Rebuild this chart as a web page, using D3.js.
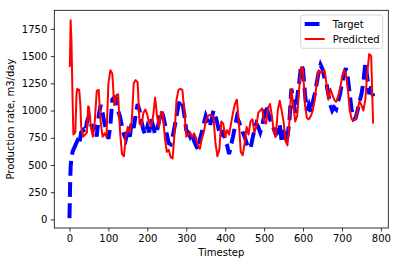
<!DOCTYPE html>
<html><head><meta charset="utf-8">
<script src="https://cdn.jsdelivr.net/npm/d3@7"></script>
<style>body{margin:0;background:#fff}svg{display:block}text{font-family:"DejaVu Sans",sans-serif;font-size:10px;fill:#000}</style>
</head><body><svg id="c" width="399" height="266"></svg>
<script>
const targetT = [0,1,2,3,5,8,10,15,20,25,30,35,40,45,50,55,60,65,70,75,80,85,90,95,100,105,110,115,120,125,130,135,140,145,150,155,160,165,170,175,180,185,190,195,200,205,210,215,220,225,230,235,240,245,250,255,260,265,270,275,280,285,290,295,300,305,310,315,320,325,330,335,340,345,350,355,360,365,370,375,380,385,390,395,400,405,410,415,420,425,430,435,440,445,450,455,460,465,470,475,480,485,490,495,500,505,510,515,520,525,530,535,540,545,550,555,560,565,570,575,580,585,590,595,600,605,610,615,620,625,630,635,640,645,650,655,660,665,670,675,680,685,690,695,700,705,710,715,720,725,730,735,740,745,750,755,760,765,770,775,780];
const targetV = [12,200,380,480,570,620,640,680,720,690,800,820,790,900,950,880,820,870,760,950,1050,980,880,820,740,860,1100,1120,1110,1000,940,850,780,740,820,760,900,840,960,1060,1000,900,820,780,850,800,920,860,780,820,900,1000,960,880,780,700,690,760,850,950,1050,1100,1080,960,820,800,760,800,720,680,640,740,800,880,950,900,850,920,1000,950,880,800,760,820,720,680,600,680,760,850,940,900,850,800,760,700,660,650,740,820,880,850,800,860,950,1050,980,920,880,830,780,800,880,720,820,700,760,900,1200,1100,980,1120,1250,1420,1380,1150,1000,1050,980,1080,1150,1250,1350,1420,1380,1300,1250,1150,1050,1000,1030,1010,1080,1150,1250,1330,1390,1300,1150,1000,920,930,1000,1080,1150,1260,1440,1300,1150,1220,1130];
const predT = [0,1,3,5,8,10,15,18,20,25,28,30,35,40,45,48,50,55,60,65,70,75,80,85,90,95,100,105,110,115,120,125,130,135,140,145,150,155,160,165,170,175,180,185,190,195,200,205,210,215,220,225,230,235,240,245,250,255,260,265,270,275,280,285,290,295,300,305,310,315,320,325,330,335,340,345,350,355,360,365,370,375,380,385,390,395,400,405,410,415,420,425,430,435,440,445,450,455,460,465,470,475,480,485,490,495,500,505,510,515,520,525,530,535,540,545,550,555,560,565,570,575,580,585,590,595,600,605,610,615,620,625,630,635,640,645,650,655,660,665,670,675,680,685,690,695,700,705,710,715,720,725,730,735,740,745,750,755,760,765,770,775,780];
const predV = [1400,1410,1830,1650,1100,780,800,1150,1200,1190,1050,850,760,780,800,1040,1030,850,760,900,1180,1190,900,760,790,760,1250,1370,1340,1050,1140,1150,800,600,580,780,850,800,900,1250,1280,1260,880,860,980,1010,960,880,860,950,1120,950,850,990,970,750,620,640,570,560,800,1100,1190,1200,1190,1000,760,780,800,760,790,750,680,650,740,800,900,950,960,950,940,700,580,640,900,880,760,820,780,880,980,1060,1100,900,620,590,700,850,780,900,920,800,850,980,1000,1020,900,880,1020,1060,950,800,760,1000,1090,1000,900,720,680,900,1200,1050,900,950,1200,1400,1380,1050,930,920,950,1000,1100,1250,1370,1350,1360,1370,1250,1100,1200,1150,1100,1080,1130,1200,1300,1370,1340,1200,1000,920,910,920,1000,1090,1050,1000,1100,1350,1520,1500,880];
const xTicks = [0,100,200,300,400,500,600,700,800];
const yTicks = [0,250,500,750,1000,1250,1500,1750];
const seriesNames = ["Target","Predicted"];
const seriesColors = ["#0000ff","#ff0000"];

const svg = d3.select("#c");
const L = 54.3, R = 388.3, T = 10.3, B = 228;
const allT = targetT.concat(predT), allV = targetV.concat(predV);
const [t0, t1] = d3.extent(allT), [v0, v1] = d3.extent(allV);
const px = (t1 - t0) * 0.05, py = (v1 - v0) * 0.05;
const x = d3.scaleLinear().domain([t0 - px, t1 + px]).range([L, R]);
const y = d3.scaleLinear().domain([v0 - py, v1 + py]).range([B, T]);

const tgt = targetT.map((t, i) => [t, targetV[i]]);
const prd = predT.map((t, i) => [t, predV[i]]);
const line = d3.line().x(d => x(d[0])).y(d => y(d[1]));

svg.append("path").datum(tgt).attr("d", line).attr("fill", "none")
  .attr("stroke", seriesColors[0]).attr("stroke-width", 4).attr("stroke-dasharray", "14.8,6.4");
svg.append("path").datum(prd).attr("d", line).attr("fill", "none")
  .attr("stroke", seriesColors[1]).attr("stroke-width", 2).attr("stroke-linejoin", "round");

const xa = svg.append("g").attr("transform", `translate(0,${B})`)
  .call(d3.axisBottom(x).tickValues(xTicks).tickSize(3.5).tickPadding(3.5).tickFormat(d3.format("d")));
const ya = svg.append("g").attr("transform", `translate(${L},0)`)
  .call(d3.axisLeft(y).tickValues(yTicks).tickSize(3.5).tickPadding(3.5).tickFormat(d3.format("d")));
[xa, ya].forEach(a => {
  a.select(".domain").remove();
  a.selectAll(".tick line").attr("stroke", "#000").attr("stroke-width", 0.8);
  a.selectAll("text").attr("font-family", "DejaVu Sans").attr("font-size", 10).attr("fill", "#000");
});
svg.append("rect").attr("x", L).attr("y", T).attr("width", R - L).attr("height", B - T)
  .attr("fill", "none").attr("stroke", "#000").attr("stroke-width", 0.8);

svg.append("text").attr("x", (L + R) / 2).attr("y", 255.5).attr("text-anchor", "middle").text("Timestep");
svg.append("text").attr("transform", `translate(14,${(T + B) / 2}) rotate(-90)`)
  .attr("text-anchor", "middle").text("Production rate, m3/day");

const lg = svg.append("g");
lg.append("rect").attr("x", 300.7).attr("y", 15).attr("width", 82).attr("height", 33.3).attr("rx", 2.5)
  .attr("fill", "#fff").attr("fill-opacity", 0.8).attr("stroke", "#cccccc").attr("stroke-width", 0.8);
seriesNames.forEach((n, i) => {
  const cy = 24 + i * 15;
  lg.append("line").attr("x1", 304.7).attr("x2", 324.7).attr("y1", cy).attr("y2", cy)
    .attr("stroke", seriesColors[i]).attr("stroke-width", i === 0 ? 4 : 2)
    .attr("stroke-dasharray", i === 0 ? "14.8,6.4" : null);
  lg.append("text").attr("x", 332.7).attr("y", cy).attr("dy", "0.36em").text(n);
});
</script></body></html>
